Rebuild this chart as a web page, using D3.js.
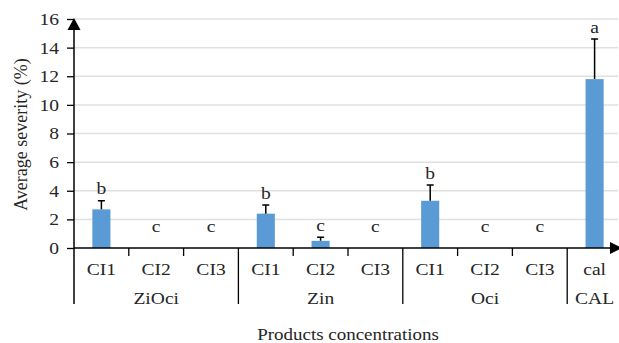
<!DOCTYPE html>
<html>
<head>
<meta charset="utf-8">
<script src="https://cdn.jsdelivr.net/npm/d3@7"></script>
<style>
  body { margin: 0; background: #fff; }
  svg text { font-family: "Times New Roman", Times, "Liberation Serif", "DejaVu Serif", serif; fill: #262626; }
</style>
</head>
<body>
<div id="container"></div>
<script>
var groups = ["ZiOci", "Zin", "Oci", "CAL"];
var categories = ["CI1", "CI2", "CI3", "CI1", "CI2", "CI3", "CI1", "CI2", "CI3", "cal"];
var catGroup = ["ZiOci", "ZiOci", "ZiOci", "Zin", "Zin", "Zin", "Oci", "Oci", "Oci", "CAL"];
var values = [2.7, 0, 0, 2.4, 0.5, 0, 3.3, 0, 0, 11.8];
var errors = [0.6, 0, 0, 0.6, 0.25, 0, 1.1, 0, 0, 2.8];
var letters = ["b", "c", "c", "b", "c", "c", "b", "c", "c", "a"];
var yTicks = [0, 2, 4, 6, 8, 10, 12, 14, 16];

var width = 619, height = 343;
var margin = { top: 19, right: 0, bottom: 95, left: 74 };
var plotW = 548, plotH = height - margin.top - margin.bottom;
var serif = '"Times New Roman", Times, "Liberation Serif", "DejaVu Serif", serif';
var sx = 1.15; // text in the original looks a little wider than normal

var svg = d3.select('#container').append('svg').attr('width', width).attr('height', height)
  .attr('font-family', serif);
var g = svg.append('g').attr('transform', 'translate(' + margin.left + ',' + margin.top + ')');

function wide(px, py) {
  return 'translate(' + px + ',' + py + ') scale(' + sx + ',1)';
}

var idx = d3.range(categories.length);
var x = d3.scaleBand().domain(idx).range([0, plotW]).paddingInner(0.67).paddingOuter(0.335);
var y = d3.scaleLinear().domain([0, 16]).range([plotH, 0]);
var step = x.step();

// gridlines
g.selectAll('.grid').data(yTicks.slice(1)).enter().append('line')
  .attr('x1', 0).attr('x2', plotW - 4)
  .attr('y1', function (d) { return y(d); }).attr('y2', function (d) { return y(d); })
  .attr('stroke', '#e0e0e0').attr('stroke-width', 1.5);

// y axis labels
var yAxis = d3.axisLeft(y).tickValues(yTicks).tickSize(7).tickPadding(6);
var ya = g.append('g').call(yAxis).attr('font-family', serif);
ya.select('.domain').remove();
ya.selectAll('line').attr('stroke', '#000').attr('stroke-width', 1.3);
ya.selectAll('text').style('font-size', '17px').style('font-family', serif).attr('fill', '#262626')
  .attr('transform', 'scale(' + sx + ',1)');

// bars
g.selectAll('.bar').data(idx).enter().append('rect')
  .attr('x', function (i) { return x(i); })
  .attr('y', function (i) { return y(values[i]); })
  .attr('width', x.bandwidth())
  .attr('height', function (i) { return plotH - y(values[i]); })
  .attr('fill', '#5b9bd5');

// error bars
var errIdx = idx.filter(function (i) { return errors[i] > 0; });
g.selectAll('.err').data(errIdx).enter().append('path')
  .attr('d', function (i) {
    var cx = x(i) + x.bandwidth() / 2, y0 = y(values[i]), y1 = y(values[i] + errors[i]);
    return 'M' + cx + ',' + y0 + 'V' + y1 + 'M' + (cx - 3.5) + ',' + y1 + 'H' + (cx + 3.5);
  })
  .attr('stroke', '#000').attr('stroke-width', 1.5).attr('fill', 'none');

// letters
g.selectAll('.lett').data(idx).enter().append('text')
  .attr('transform', function (i) {
    return wide(x(i) + x.bandwidth() / 2, Math.min(y(values[i] + errors[i]) - 6.5, plotH - 16.5));
  })
  .attr('text-anchor', 'middle').style('font-size', '17px')
  .text(function (i) { return letters[i]; });

// x axis line with arrow
g.append('line').attr('x1', 0).attr('x2', plotW - 10).attr('y1', plotH).attr('y2', plotH)
  .attr('stroke', '#000').attr('stroke-width', 1.5);
g.append('path').attr('d', 'M' + plotW + ',' + plotH + 'l-12,-6v12z').attr('fill', '#000');

// y axis line with arrow
g.append('line').attr('x1', 0).attr('x2', 0).attr('y1', 304 - margin.top).attr('y2', 9)
  .attr('stroke', '#000').attr('stroke-width', 1.5);
g.append('path').attr('d', 'M0,-1l-6.5,12h13z').attr('fill', '#000');

// category ticks and group dividers
var bounds = d3.range(1, categories.length);
g.selectAll('.ctick').data(bounds).enter().append('line')
  .attr('x1', function (b) { return b * step; }).attr('x2', function (b) { return b * step; })
  .attr('y1', plotH)
  .attr('y2', function (b) { return catGroup[b] !== catGroup[b - 1] ? 304 - margin.top : plotH + 8; })
  .attr('stroke', '#000').attr('stroke-width', 1.3);

// category labels
g.selectAll('.clab').data(idx).enter().append('text')
  .attr('transform', function (i) { return wide(x(i) + x.bandwidth() / 2, 275 - margin.top); })
  .attr('text-anchor', 'middle').style('font-size', '17px')
  .text(function (i) { return categories[i]; });

// group labels
g.selectAll('.glab').data(groups).enter().append('text')
  .attr('transform', function (gr) {
    var members = idx.filter(function (i) { return catGroup[i] === gr; });
    var cx = (members[0] * step + (members[members.length - 1] + 1) * step) / 2;
    return wide(cx, 304 - margin.top);
  })
  .attr('text-anchor', 'middle').style('font-size', '17px')
  .text(function (gr) { return gr; });

// axis titles
svg.append('text').attr('transform', wide(348, 340)).attr('text-anchor', 'middle')
  .style('font-size', '16.5px').text('Products concentrations');
svg.append('text').attr('transform', 'translate(27,' + (margin.top + y(8) + 1) + ') rotate(-90)')
  .attr('text-anchor', 'middle').style('font-size', '18px').text('Average severity (%)');
</script>
</body>
</html>
